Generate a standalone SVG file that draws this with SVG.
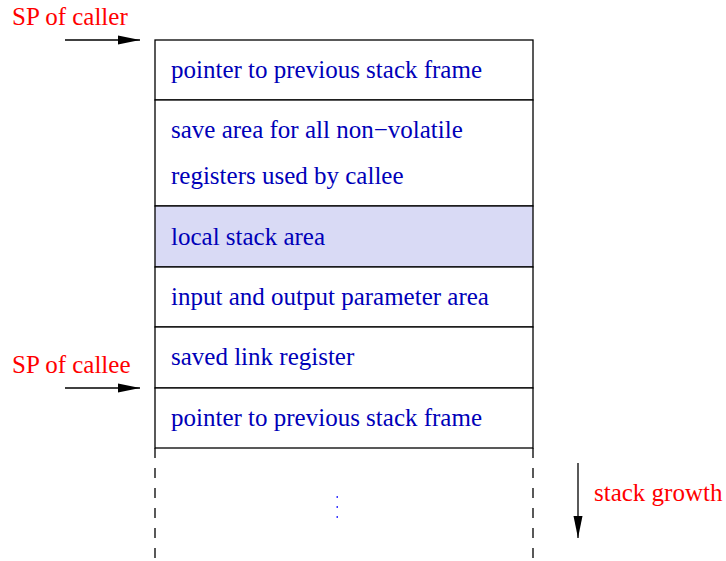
<svg xmlns="http://www.w3.org/2000/svg" width="726" height="561" viewBox="0 0 726 561">
<style>
.t{font-family:"Liberation Serif","Times New Roman",serif;font-size:25px;fill:#0000b8}
.r{font-family:"Liberation Serif","Times New Roman",serif;font-size:25px;fill:#ff0000}
.box{fill:#ffffff;stroke:#000;stroke-width:1.3}
.ln{stroke:#000;stroke-width:1.3;fill:none}
.dash{stroke:#000;stroke-width:1.3;stroke-dasharray:10 10;fill:none}
</style>
<defs>
<marker id="ah" viewBox="0 0 22 10" refX="22" refY="5" markerWidth="22" markerHeight="10" markerUnits="userSpaceOnUse" orient="auto">
<path d="M0,0.5 L22,5 L0,9.5 z" fill="#000"/>
</marker>
</defs>
<g id="row1"><rect class="box" x="155" y="40" width="378" height="60"/><text class="t" x="171" y="78">pointer to previous stack frame</text></g>
<g id="row2"><rect class="box" x="155" y="100" width="378" height="106"/><text class="t" x="171" y="138">save area for all non−volatile</text><text class="t" x="171" y="184">registers used by callee</text></g>
<g id="row3"><rect x="155" y="206" width="378" height="61" fill="#d9daf5" stroke="#000" stroke-width="1.3"/><text class="t" x="171" y="245">local stack area</text></g>
<g id="row4"><rect class="box" x="155" y="267" width="378" height="60"/><text class="t" x="171" y="305">input and output parameter area</text></g>
<g id="row5"><rect class="box" x="155" y="327" width="378" height="61"/><text class="t" x="171" y="365">saved link register</text></g>
<g id="row6"><rect class="box" x="155" y="388" width="378" height="60"/><text class="t" x="171" y="426">pointer to previous stack frame</text></g>
<g id="continuation">
<line class="dash" x1="155" y1="448" x2="155" y2="560"/>
<line class="dash" x1="533" y1="448" x2="533" y2="560"/>
<g fill="#3a3aff"><rect x="336.5" y="496" width="1.5" height="2"/><rect x="336.5" y="506" width="1.5" height="2"/><rect x="336.5" y="516" width="1.5" height="2"/></g>
</g>
<g id="labels">
<text class="r" x="12" y="25">SP of caller</text>
<text class="r" x="12" y="373">SP of callee</text>
<text class="r" x="594" y="501">stack growth</text>
</g>
<g id="connectors">
<line class="ln" x1="65" y1="40" x2="140" y2="40" marker-end="url(#ah)"/>
<line class="ln" x1="65" y1="388" x2="140" y2="388" marker-end="url(#ah)"/>
<line class="ln" x1="578" y1="463" x2="578" y2="538" marker-end="url(#ah)"/>
</g>
</svg>
